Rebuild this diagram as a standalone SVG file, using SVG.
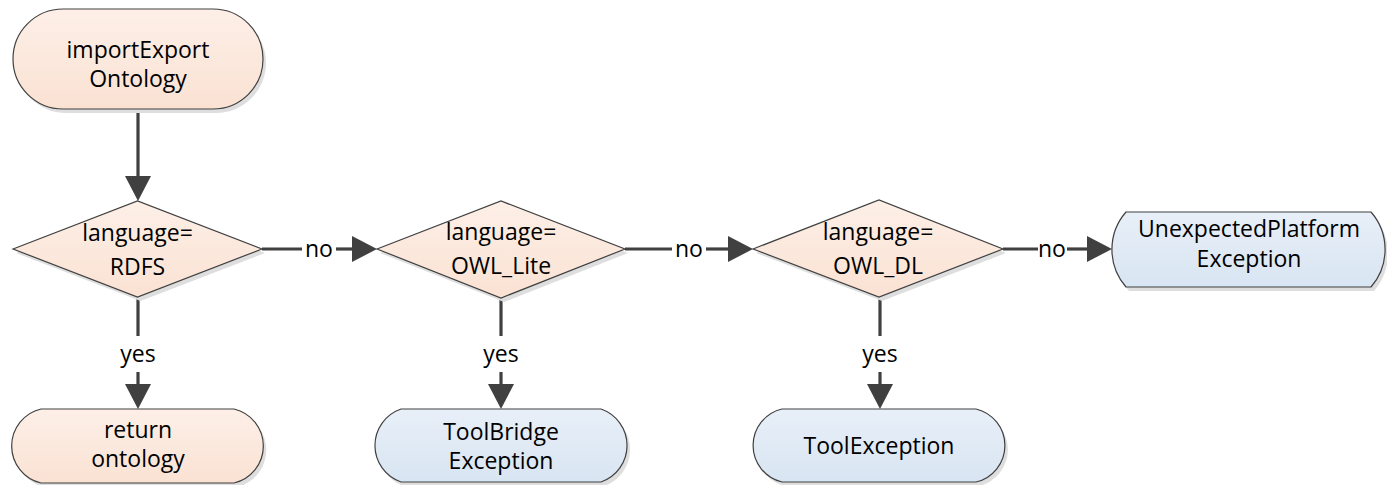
<svg xmlns="http://www.w3.org/2000/svg" width="1387" height="485" viewBox="0 0 1387 485">
  <defs>
    <linearGradient id="gOrange" x1="0" y1="0" x2="0" y2="1">
      <stop offset="0" stop-color="#fdefe7"/>
      <stop offset="1" stop-color="#fae2d3"/>
    </linearGradient>
    <linearGradient id="gBlue" x1="0" y1="0" x2="0" y2="1">
      <stop offset="0" stop-color="#e8eff8"/>
      <stop offset="1" stop-color="#d8e5f2"/>
    </linearGradient>
    <marker id="arrow" markerUnits="userSpaceOnUse" markerWidth="26" markerHeight="26" viewBox="0 0 26 26" refX="5" refY="13" orient="auto">
      <path d="M0,0 L25,13 L0,26 Z" fill="#404040"/>
    </marker>
  </defs>
  <style>
    .shadow { fill: #dedede; stroke: none; }
    .orange { fill: url(#gOrange); stroke: #404040; stroke-width: 1.2; }
    .blue { fill: url(#gBlue); stroke: #404040; stroke-width: 1.2; }
    .lbl { font-family: "Open Sans", "Liberation Sans", sans-serif; font-size: 23px; fill: #000; text-anchor: middle; }
    .conn { stroke: #404040; stroke-width: 3.2; fill: none; }
  </style>

  <g id="connectors">
    <line class="conn" x1="138" y1="109" x2="138" y2="181" marker-end="url(#arrow)"/>
    <line class="conn" x1="262" y1="249" x2="302" y2="249"/>
    <line class="conn" x1="336" y1="249" x2="357" y2="249" marker-end="url(#arrow)"/>
    <line class="conn" x1="625" y1="249" x2="672" y2="249"/>
    <line class="conn" x1="706" y1="249" x2="733" y2="249" marker-end="url(#arrow)"/>
    <line class="conn" x1="1003" y1="249" x2="1038" y2="249"/>
    <line class="conn" x1="1067" y1="249" x2="1092" y2="249" marker-end="url(#arrow)"/>
    <line class="conn" x1="138" y1="297" x2="138" y2="336"/>
    <line class="conn" x1="138" y1="372" x2="138" y2="389" marker-end="url(#arrow)"/>
    <line class="conn" x1="501" y1="298" x2="501" y2="336"/>
    <line class="conn" x1="501" y1="372" x2="501" y2="389" marker-end="url(#arrow)"/>
    <line class="conn" x1="880" y1="297" x2="880" y2="336"/>
    <line class="conn" x1="880" y1="372" x2="880" y2="389" marker-end="url(#arrow)"/>
    <text class="lbl" x="319" y="257">no</text>
    <text class="lbl" x="689" y="257">no</text>
    <text class="lbl" x="1052" y="257">no</text>
    <text class="lbl" x="138" y="362">yes</text>
    <text class="lbl" x="501" y="362">yes</text>
    <text class="lbl" x="880" y="362">yes</text>
  </g>

  <g id="start">
    <path class="shadow" transform="translate(3,4)" d="M63,9 H213 A50,50 0 0 1 213,109 H63 A50,50 0 0 1 63,9 Z"/>
    <path class="orange" d="M63,9 H213 A50,50 0 0 1 213,109 H63 A50,50 0 0 1 63,9 Z"/>
    <text class="lbl" x="138" y="58">importExport</text>
    <text class="lbl" x="138" y="87">Ontology</text>
  </g>

  <g id="decision-rdfs">
    <polygon class="shadow" transform="translate(3,4)" points="13,249 137.5,201 262,249 137.5,297"/>
    <polygon class="orange" points="13,249 137.5,201 262,249 137.5,297"/>
    <text class="lbl" x="137.5" y="241">language=</text>
    <text class="lbl" x="137.5" y="275">RDFS</text>
  </g>

  <g id="decision-owl-lite">
    <polygon class="shadow" transform="translate(3,4)" points="377,249 501,201 625,249 501,298"/>
    <polygon class="orange" points="377,249 501,201 625,249 501,298"/>
    <text class="lbl" x="501" y="240">language=</text>
    <text class="lbl" x="501" y="274">OWL_Lite</text>
  </g>

  <g id="decision-owl-dl">
    <polygon class="shadow" transform="translate(3,4)" points="753,249 879,200 1003,249 879,297"/>
    <polygon class="orange" points="753,249 879,200 1003,249 879,297"/>
    <text class="lbl" x="878" y="240">language=</text>
    <text class="lbl" x="878" y="274">OWL_DL</text>
  </g>

  <g id="unexpected-platform-exception">
    <path class="shadow" transform="translate(3,4)" d="M1126,212 H1371 A57,57 0 0 1 1371,287 H1126 A57,57 0 0 1 1126,212 Z"/>
    <path class="blue" d="M1126,212 H1371 A57,57 0 0 1 1371,287 H1126 A57,57 0 0 1 1126,212 Z"/>
    <text class="lbl" x="1249" y="237">UnexpectedPlatform</text>
    <text class="lbl" x="1249" y="267">Exception</text>
  </g>

  <g id="return-ontology">
    <path class="shadow" transform="translate(3,4)" d="M41,409 H234 A38,38 0 0 1 234,483 H41 A38,38 0 0 1 41,409 Z"/>
    <path class="orange" d="M41,409 H234 A38,38 0 0 1 234,483 H41 A38,38 0 0 1 41,409 Z"/>
    <text class="lbl" x="138" y="438">return</text>
    <text class="lbl" x="138" y="467">ontology</text>
  </g>

  <g id="toolbridge-exception">
    <path class="shadow" transform="translate(3,4)" d="M401,409 H601 A38.6,38.6 0 0 1 601,482 H401 A38.6,38.6 0 0 1 401,409 Z"/>
    <path class="blue" d="M401,409 H601 A38.6,38.6 0 0 1 601,482 H401 A38.6,38.6 0 0 1 401,409 Z"/>
    <text class="lbl" x="501" y="440">ToolBridge</text>
    <text class="lbl" x="501" y="469">Exception</text>
  </g>

  <g id="tool-exception">
    <path class="shadow" transform="translate(3,4)" d="M782,409 H976 A37.5,37.5 0 0 1 976,482 H782 A37.5,37.5 0 0 1 782,409 Z"/>
    <path class="blue" d="M782,409 H976 A37.5,37.5 0 0 1 976,482 H782 A37.5,37.5 0 0 1 782,409 Z"/>
    <text class="lbl" x="879" y="454">ToolException</text>
  </g>
</svg>
